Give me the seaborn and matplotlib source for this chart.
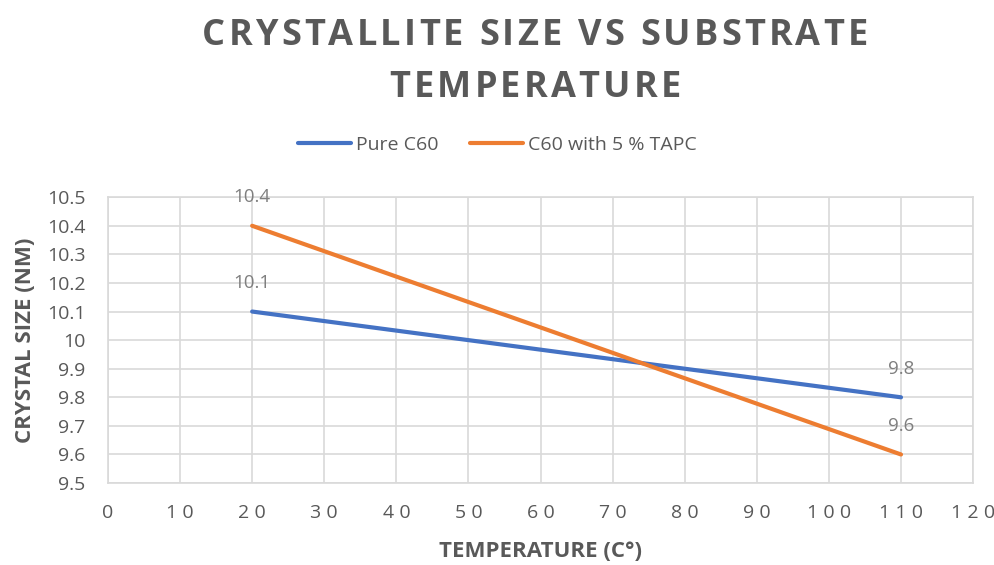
import matplotlib
matplotlib.use("Agg")
import matplotlib.pyplot as plt
import seaborn as sns
import pandas as pd
from matplotlib.lines import Line2D

temperature = [20, 110]
pure_c60 = [10.1, 9.8]
c60_tapc = [10.4, 9.6]
series_names = ["Pure C60", "C60 with 5 % TAPC"]
x_ticks = list(range(0, 121, 10))
y_ticks = [9.5, 9.6, 9.7, 9.8, 9.9, 10.0, 10.1, 10.2, 10.3, 10.4, 10.5]
y_tick_labels = ["9.5", "9.6", "9.7", "9.8", "9.9", "10", "10.1", "10.2", "10.3", "10.4", "10.5"]
title_lines = ["CRYSTALLITE SIZE VS SUBSTRATE", "TEMPERATURE"]

df = pd.DataFrame({
    "Temperature": temperature * 2,
    "Size": pure_c60 + c60_tapc,
    "Series": [series_names[0]] * 2 + [series_names[1]] * 2,
})

sns.set_theme(style="white")
plt.rcParams["font.family"] = ["Open Sans", "DejaVu Sans"]

W, H = 995, 565
fig = plt.figure(figsize=(W / 100, H / 100), dpi=100)
ax = fig.add_axes([0.1085, 0.145, 0.8695, 0.506])

palette = {series_names[0]: "#4472C4", series_names[1]: "#ED7D31"}
sns.lineplot(data=df, x="Temperature", y="Size", hue="Series", palette=palette,
             linewidth=3, ax=ax, legend=False)

ax.set_xlim(0, 120)
ax.set_ylim(9.5, 10.5)
ax.set_xticks(x_ticks)
ax.set_xticklabels(["\u2009\u200a".join(str(t)) for t in x_ticks])
ax.set_yticks(y_ticks)
ax.set_yticklabels(y_tick_labels)
ax.grid(True, color="#d9d9d9", linewidth=1.2)
ax.set_axisbelow(True)
for s in ax.spines.values():
    s.set_visible(True)
    s.set_color("#d9d9d9")
    s.set_linewidth(1.2)
ax.tick_params(axis="both", length=0, labelsize=14, labelcolor="#595959")
ax.tick_params(axis="x", pad=15)
ax.tick_params(axis="y", pad=16)

for xs, ys in [(temperature, pure_c60), (temperature, c60_tapc)]:
    for xv, yv in zip(xs, ys):
        ax.annotate(f"{yv:g}", (xv, yv), xytext=(0, 17), textcoords="offset points",
                    ha="center", va="baseline", fontsize=13.5, color="#7f7f7f")

ax.set_xlabel("TEMPERATURE (C°)", fontsize=16, fontweight="bold", color="#595959", labelpad=14)
ax.set_ylabel("CRYSTAL SIZE (NM)", fontsize=16, fontweight="bold", color="#595959", labelpad=8)

# letter-spaced title
renderer = fig.canvas.get_renderer()
title_kw = dict(fontsize=26, fontweight="bold", color="#595959")


def text_width(s):
    t = fig.text(0, 0, s, **title_kw)
    w = t.get_window_extent(renderer).width
    t.remove()
    return w


base = text_width("HH")


def spaced_title(s, cx, baseline, spacing):
    adv = [text_width("H" + c + "H") - base for c in s]
    total = sum(adv) + spacing * (len(s) - 1)
    x = cx - total / 2
    for c, a in zip(s, adv):
        if c != " ":
            fig.text(x / W, 1 - baseline / H, c, ha="left", va="baseline", **title_kw)
        x += a + spacing


spaced_title(title_lines[0], 535, 45, 3.2)
spaced_title(title_lines[1], 535, 97, 3.2)

handles = [Line2D([0], [0], color=palette[n], linewidth=3) for n in series_names]
fig.legend(handles, series_names, loc="center", bbox_to_anchor=(0.5, 0.743), ncol=2,
           frameon=False, fontsize=14, labelcolor="#595959", handlelength=2.75,
           columnspacing=1.6, handletextpad=0.25)

fig.savefig("out.png", dpi=100, facecolor="white")
